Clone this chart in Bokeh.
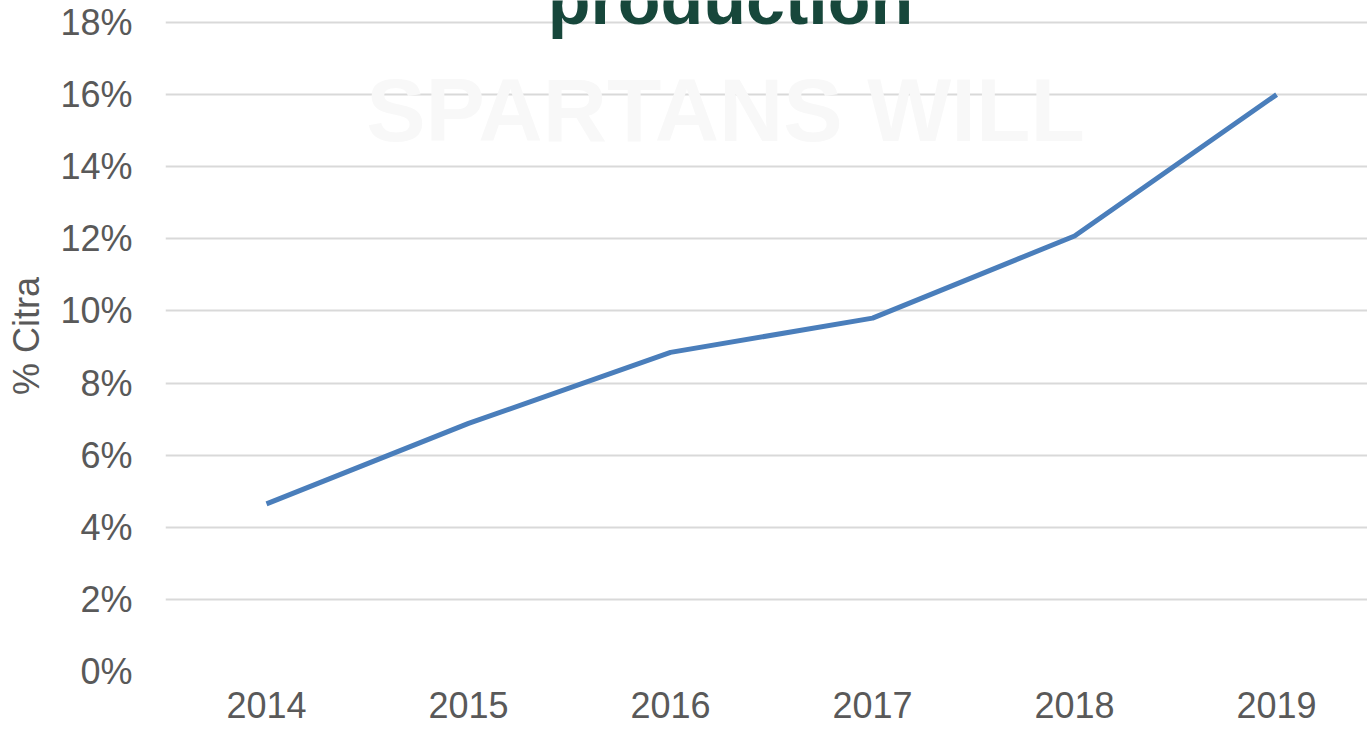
from bokeh.plotting import figure
from bokeh.models import Range1d, Label, FixedTicker, CustomJSTickFormatter
from bokeh.embed import file_html
from bokeh.resources import INLINE

years = [2014, 2015, 2016, 2017, 2018, 2019]
citra_share = [4.65, 6.88, 8.85, 9.8, 12.08, 16.0]
y_ticks = [0, 2, 4, 6, 8, 10, 12, 14, 16, 18]
title_text = "production"
watermark_text = "SPARTANS WILL"
y_label = "% Citra"

FONT = "Liberation Sans"
GRAY = "#595959"

p = figure(width=1367, height=732, output_backend="svg", toolbar_location=None,
           x_range=Range1d(2013.5, 2019.45), y_range=Range1d(0, 18.61),
           min_border_left=165, min_border_right=0, min_border_top=0, min_border_bottom=61)
p.outline_line_color = None
p.background_fill_color = "white"
p.border_fill_color = "white"

p.line(years, citra_share, line_color="#4a7ebb", line_width=5)

p.xgrid.grid_line_color = None
p.ygrid.grid_line_color = "#d9d9d9"
p.ygrid.grid_line_width = 2

p.yaxis.ticker = FixedTicker(ticks=y_ticks)
p.yaxis.formatter = CustomJSTickFormatter(code="return tick.toFixed(0) + '%';")
p.xaxis.ticker = FixedTicker(ticks=years)
p.xaxis.formatter = CustomJSTickFormatter(code="return tick.toFixed(0);")

for ax in (p.xaxis, p.yaxis):
    ax.axis_line_color = None
    ax.major_tick_line_color = None
    ax.minor_tick_line_color = None
    ax.major_tick_out = 0
    ax.major_tick_in = 0
    ax.minor_tick_out = 0
    ax.minor_tick_in = 0
    ax.major_label_text_font = FONT
    ax.major_label_text_font_size = "36px"
    ax.major_label_text_color = GRAY

p.yaxis.major_label_standoff = 33
p.xaxis.major_label_standoff = 20
p.yaxis.axis_label = y_label
p.yaxis.axis_label_text_font = FONT
p.yaxis.axis_label_text_font_size = "36px"
p.yaxis.axis_label_text_font_style = "normal"
p.yaxis.axis_label_text_color = GRAY
p.yaxis.axis_label_standoff = 10

wm = Label(x=560, y=562, x_units="screen", y_units="screen", text=watermark_text,
           text_font=FONT, text_font_size="89px", text_font_style="bold",
           text_color="#f8f8f8", text_align="center", text_baseline="alphabetic")
p.add_layout(wm)

title = Label(x=565, y=672, x_units="screen", y_units="screen", text=title_text,
              text_font=FONT, text_font_size="70px", text_font_style="bold",
              text_color="#17473b", text_align="center", text_baseline="alphabetic")
p.add_layout(title)

open("out.html", "w").write(file_html(p, INLINE))
